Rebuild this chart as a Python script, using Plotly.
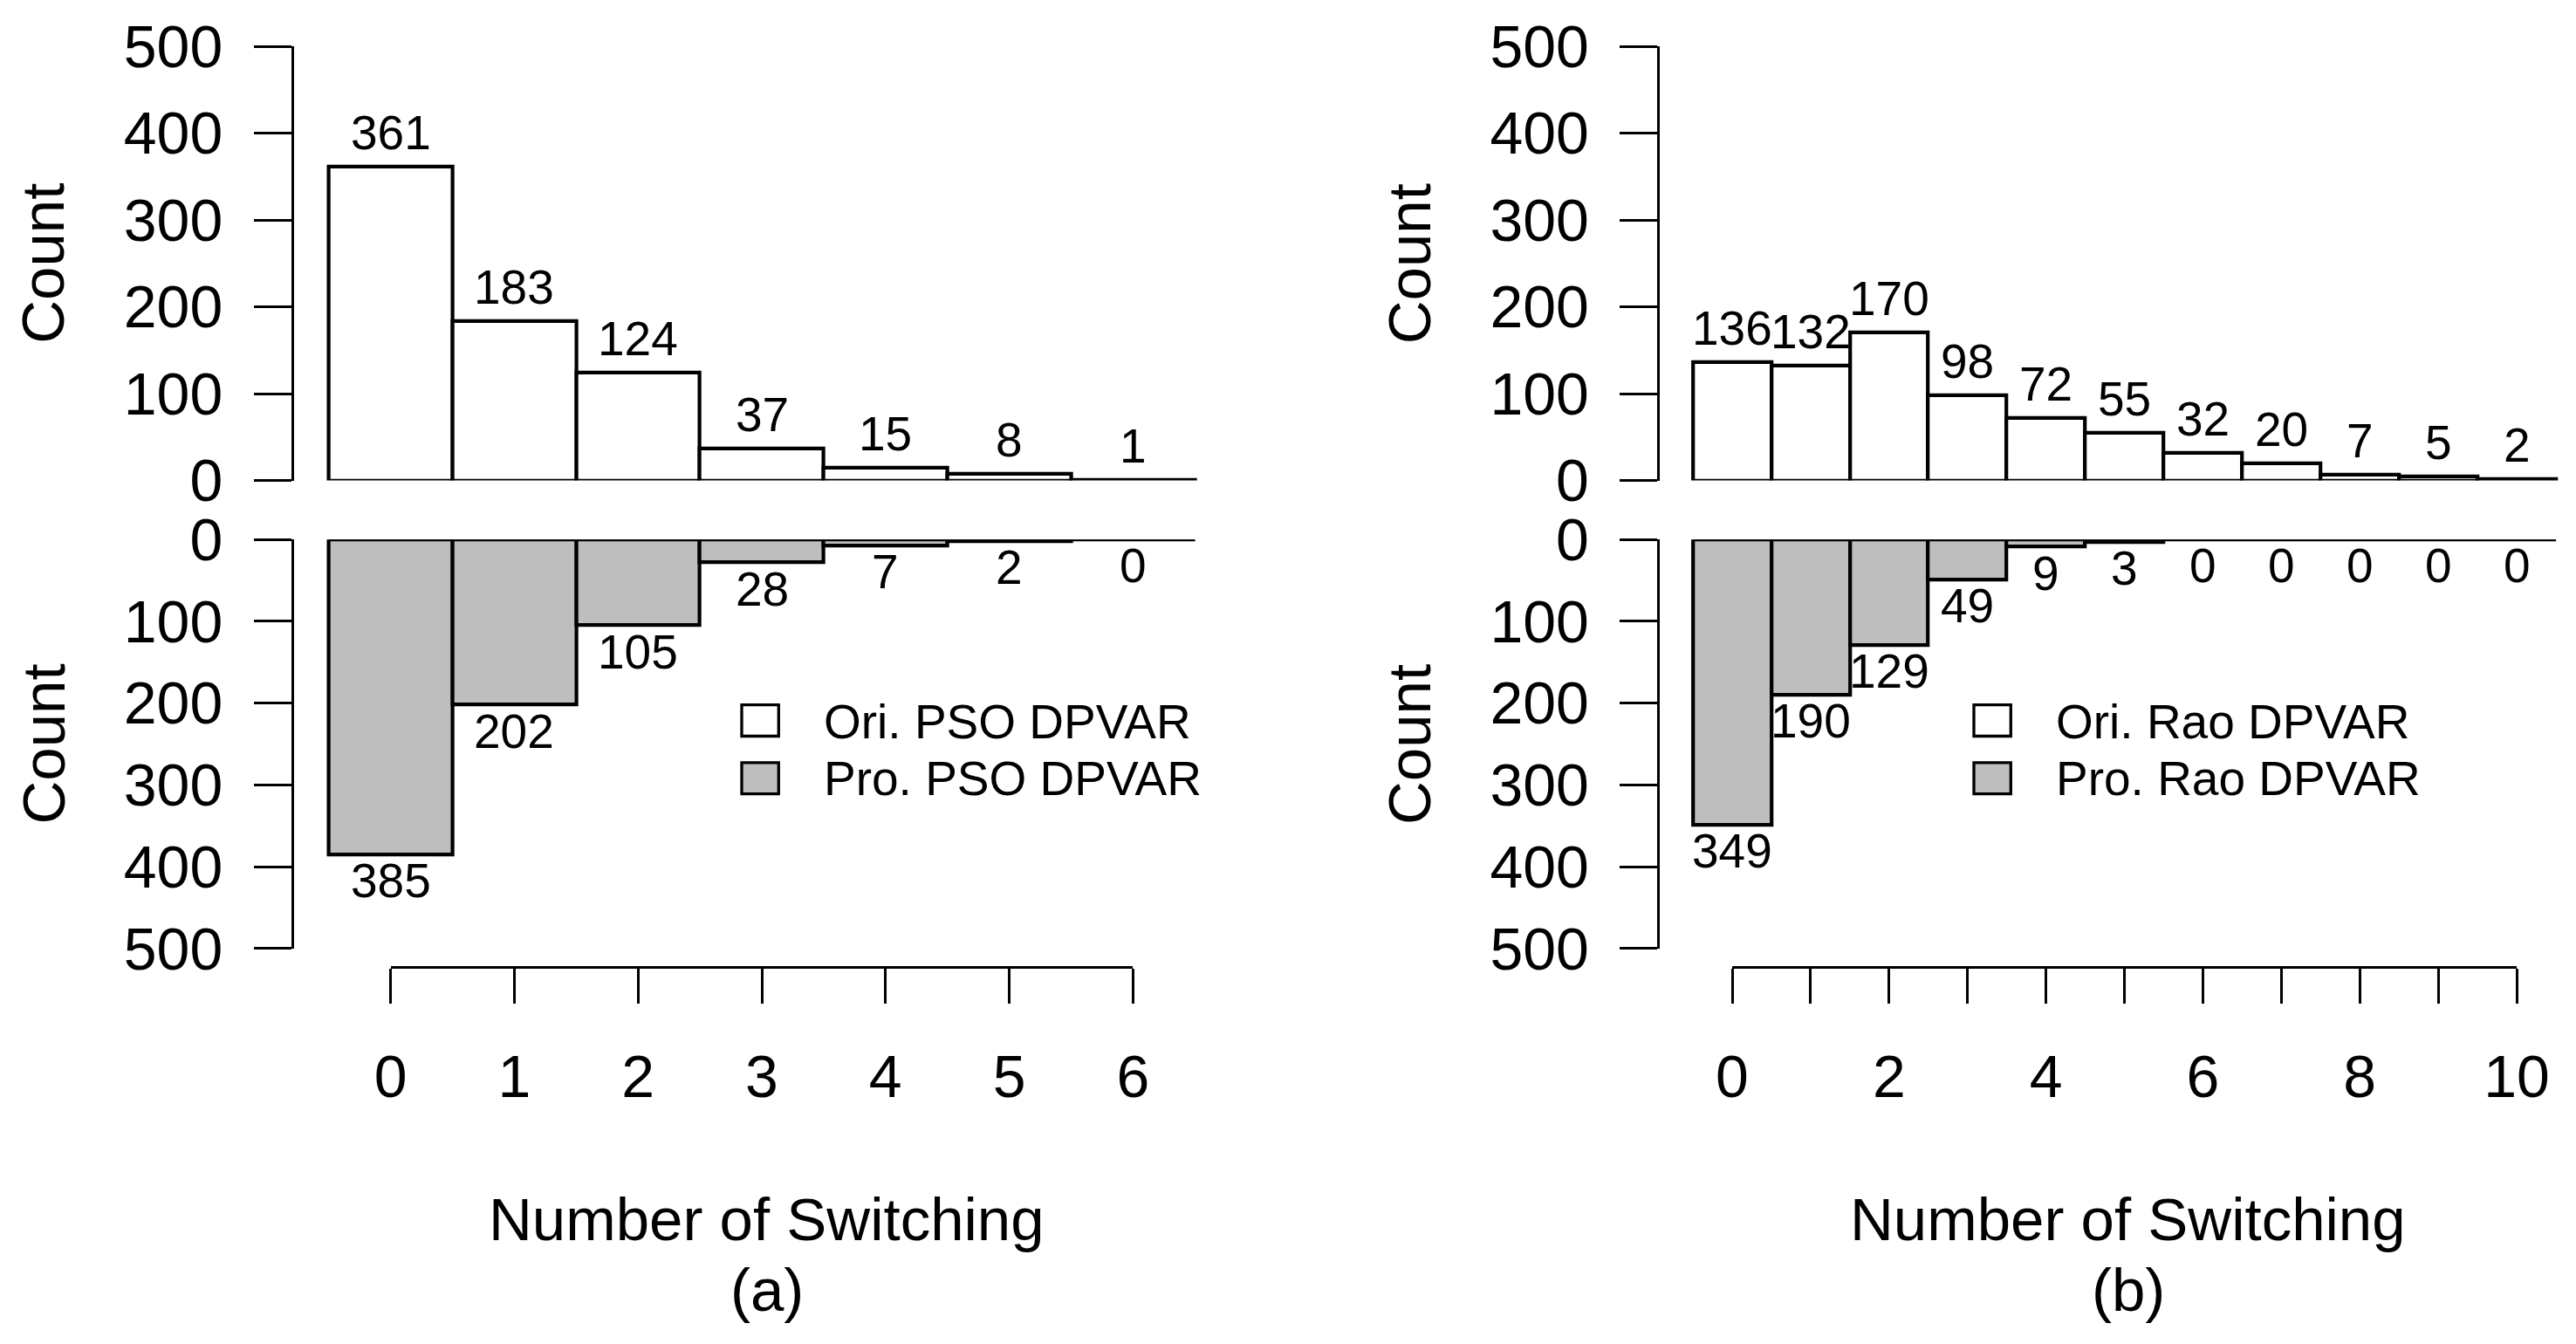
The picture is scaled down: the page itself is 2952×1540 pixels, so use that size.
import plotly.graph_objects as go

# ---------------- data ----------------
bins_a = [0, 1, 2, 3, 4, 5, 6]
ori_a = [361, 183, 124, 37, 15, 8, 1]
pro_a = [385, 202, 105, 28, 7, 2, 0]

bins_b = [0, 1, 2, 3, 4, 5, 6, 7, 8, 9, 10]
ori_b = [136, 132, 170, 98, 72, 55, 32, 20, 7, 5, 2]
pro_b = [349, 190, 129, 49, 9, 3, 0, 0, 0, 0, 0]

y_ticks = [0, 100, 200, 300, 400, 500]
x_ticks_a = [0, 1, 2, 3, 4, 5, 6]
x_ticklabels_a = ["0", "1", "2", "3", "4", "5", "6"]
x_ticks_b = [0, 1, 2, 3, 4, 5, 6, 7, 8, 9, 10]
x_ticklabels_b = ["0", "", "2", "", "4", "", "6", "", "8", "", "10"]

legend_a = ["Ori. PSO DPVAR", "Pro. PSO DPVAR"]
legend_b = ["Ori. Rao DPVAR", "Pro. Rao DPVAR"]
xlabel = "Number of Switching"
ylabel = "Count"
panel_tags = ["(a)", "(b)"]

# ---------------- layout geometry (pixels of the 2952x1540 window) ----------------
OFF = 8                       # default page body margin
W, H = 2952 - 2 * OFF, 1540 - 2 * OFF
FONT = "Liberation Sans, Arial, Helvetica, sans-serif"
GRAY = "#BEBEBE"
LW_AX = 3.3
LW_BAR = 4.2
FS_TICK = 68
FS_TITLE = 69
FS_VAL = 55
FS_LEG = 55


def fx(px):
    return (px - OFF) / W


def fy(py):
    return 1 - (py - OFF) / H


TOP = (53.0, 550.5)       # y pixel of 500 and 0 in top panels
BOT = (618.3, 1086.7)     # y pixel of 0 and 500 in bottom panels
XAXIS_Y = 1106.7

panels = [
    dict(bins=bins_a, ori=ori_a, pro=pro_a, ax=336.7, x0=447.7, sx=141.77, right=1410,
         xt=x_ticks_a, xl=x_ticklabels_a, leg=legend_a, title_x=878.5, count_x=50,
         box_x=850, text_x=942.3, tag=panel_tags[0]),
    dict(bins=bins_b, ori=ori_b, pro=pro_b, ax=1902.3, x0=1985.0, sx=89.9, right=2940,
         xt=x_ticks_b, xl=x_ticklabels_b, leg=legend_b, title_x=2438.6, count_x=1615.5,
         box_x=2262, text_x=2354, tag=panel_tags[1]),
]

fig = go.Figure()
layout = dict(
    template="none",
    width=W, height=H, margin=dict(l=0, r=0, t=0, b=0, pad=0, autoexpand=False),
    paper_bgcolor="white", plot_bgcolor="white",
    showlegend=False, bargap=0,
    font=dict(family=FONT, color="black"),
)
annotations = []
shapes = []

yaxis_common = dict(
    range=[0, 500], tickvals=y_ticks, ticks="outside", ticklen=42.7, tickwidth=LW_AX,
    tickcolor="black", showline=True, linewidth=LW_AX, linecolor="black",
    showgrid=False, zeroline=False, tickfont=dict(size=FS_TICK, family=FONT, color="black"),
    ticklabelstandoff=22, fixedrange=True, automargin=False,
)

for i, p in enumerate(panels):
    xa_top, ya_top = 4 * i + 1, 4 * i + 1
    xa_bot, ya_bot = 4 * i + 2, 4 * i + 2
    xa_ax, ya_ax = 4 * i + 3, 4 * i + 3
    xr = [(p["ax"] - p["x0"]) / p["sx"], (p["right"] - p["x0"]) / p["sx"]]
    xdom = [fx(p["ax"]), fx(p["right"])]

    def nm(k):
        return "" if k == 1 else str(k)

    # bars
    fig.add_trace(go.Bar(x=p["bins"], y=p["ori"], width=1,
                         marker=dict(color="white", line=dict(color="black", width=LW_BAR)),
                         xaxis="x" + nm(xa_top), yaxis="y" + nm(ya_top), hoverinfo="skip"))
    fig.add_trace(go.Bar(x=p["bins"], y=p["pro"], width=1,
                         marker=dict(color=GRAY, line=dict(color="black", width=LW_BAR)),
                         xaxis="x" + nm(xa_bot), yaxis="y" + nm(ya_bot), hoverinfo="skip"))
    # invisible trace to carry the detached x axis
    fig.add_trace(go.Scatter(x=p["xt"], y=[0] * len(p["xt"]), mode="markers",
                             marker=dict(opacity=0), xaxis="x" + nm(xa_ax),
                             yaxis="y" + nm(ya_ax), hoverinfo="skip"))

    for k in (xa_top, xa_bot):
        layout["xaxis" + nm(k)] = dict(domain=xdom, range=xr, visible=False,
                                       anchor="y" + nm(k), fixedrange=True,
                                       automargin=False)
    layout["yaxis" + nm(ya_top)] = dict(yaxis_common, domain=[fy(TOP[1]), fy(TOP[0])],
                                        anchor="x" + nm(xa_top))
    layout["yaxis" + nm(ya_bot)] = dict(yaxis_common, domain=[fy(BOT[1]), fy(BOT[0])],
                                        range=[500, 0], anchor="x" + nm(xa_bot))

    # detached x axis
    lo, hi = p["xt"][0], p["xt"][-1]
    layout["xaxis" + nm(xa_ax)] = dict(
        domain=[fx(p["x0"] + lo * p["sx"]), fx(p["x0"] + hi * p["sx"])],
        range=[lo, hi], tickvals=p["xt"], ticktext=p["xl"], ticks="outside",
        ticklen=40.3, tickwidth=LW_AX, tickcolor="black", showline=True,
        linewidth=LW_AX, linecolor="black", showgrid=False, zeroline=False,
        tickfont=dict(size=FS_TICK, family=FONT, color="black"), ticklabelstandoff=25,
        anchor="y" + nm(ya_ax), side="bottom", fixedrange=True, automargin=False)
    layout["yaxis" + nm(ya_ax)] = dict(domain=[fy(XAXIS_Y), fy(XAXIS_Y - 10)],
                                       visible=False, range=[0, 1],
                                       anchor="x" + nm(xa_ax), fixedrange=True,
                                       automargin=False)

    # zero line across bottom bars (zero-height bars)
    shapes.append(dict(type="line", xref="x" + nm(xa_bot), yref="y" + nm(ya_bot),
                       x0=p["bins"][0] - 0.5, x1=p["bins"][-1] + 0.5, y0=0, y1=0,
                       line=dict(color="black", width=LW_BAR - 1)))

    # value labels
    for b, v in zip(p["bins"], p["ori"]):
        annotations.append(dict(x=b, y=v, xref="x" + nm(xa_top), yref="y" + nm(ya_top),
                                text=str(v), showarrow=False, yanchor="bottom",
                                xanchor="center", yshift=6, font=dict(size=FS_VAL, family=FONT)))
    for b, v in zip(p["bins"], p["pro"]):
        annotations.append(dict(x=b, y=v, xref="x" + nm(xa_bot), yref="y" + nm(ya_bot),
                                text=str(v), showarrow=False, yanchor="top",
                                xanchor="center", yshift=3, font=dict(size=FS_VAL, family=FONT)))

    # axis titles
    for cy in ((TOP[0] + TOP[1]) / 2, (BOT[0] + BOT[1]) / 2):
        annotations.append(dict(x=fx(p["count_x"]), y=fy(cy), xref="paper", yref="paper",
                                text=ylabel, textangle=-90, showarrow=False,
                                xanchor="center", yanchor="middle",
                                font=dict(size=FS_TITLE, family=FONT)))
    annotations.append(dict(x=fx(p["title_x"]), y=fy(1397), xref="paper", yref="paper",
                            text=xlabel, showarrow=False, xanchor="center", yanchor="middle",
                            font=dict(size=FS_TITLE, family=FONT)))
    annotations.append(dict(x=fx(p["title_x"]), y=fy(1478), xref="paper", yref="paper",
                            text=p["tag"], showarrow=False, xanchor="center", yanchor="middle",
                            font=dict(size=FS_TITLE, family=FONT)))

    # legend
    for j, (fill, label) in enumerate(zip(["white", GRAY], p["leg"])):
        ytop = 807.7 + j * 66.1
        shapes.append(dict(type="rect", xref="paper", yref="paper",
                           x0=fx(p["box_x"]), x1=fx(p["box_x"] + 42.3),
                           y0=fy(ytop + 35.8), y1=fy(ytop),
                           fillcolor=fill, line=dict(color="black", width=LW_AX)))
        annotations.append(dict(x=fx(p["text_x"]), y=fy(827 + j * 65.4), xref="paper",
                                yref="paper", text=label, showarrow=False,
                                xanchor="left", yanchor="middle",
                                font=dict(size=FS_LEG, family=FONT)))

layout["annotations"] = annotations
layout["shapes"] = shapes
fig.update_layout(**layout)
fig.write_html("out.html")
